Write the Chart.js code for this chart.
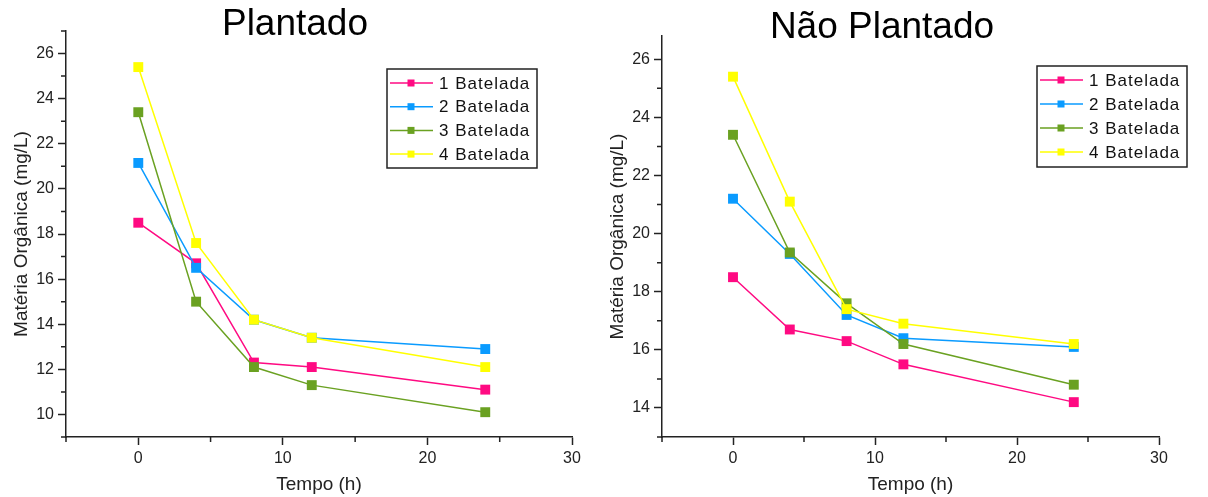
<!DOCTYPE html>
<html>
<head>
<meta charset="utf-8">
<script src="https://cdn.jsdelivr.net/npm/chart.js@4.4.1/dist/chart.umd.min.js"></script>
<style>
  body { margin: 0; background: #fff; }
  #wrap { position: relative; width: 1208px; height: 497px; overflow: hidden; font-family: "Liberation Sans", Arial, sans-serif; }
  .title { position: absolute; font-size: 37px; line-height: 37px; color: #000; transform: translateX(-50%); white-space: nowrap; }
  canvas { position: absolute; top: 0; }
</style>
</head>
<body>
<div id="wrap">
  <canvas id="plantado" width="600" height="497" style="left:0"></canvas>
  <canvas id="naoPlantado" width="608" height="497" style="left:600px"></canvas>
  <div class="title" style="left:295px;top:4px">Plantado</div>
  <div class="title" style="left:882px;top:7px">Não Plantado</div>
</div>
<script>
// tempo (h) e séries
const tempo = [0, 4, 8, 12, 24];
const seriesNames = ['1 Batelada', '2 Batelada', '3 Batelada', '4 Batelada'];
const seriesColors = ['#FF0A82', '#0A9BFF', '#6AA121', '#FFFF00'];

const plantado1 = [18.5, 16.7, 12.3, 12.1, 11.1];
const plantado2 = [21.15, 16.5, 14.2, 13.4, 12.9];
const plantado3 = [23.4, 15.0, 12.1, 11.3, 10.1];
const plantado4 = [25.4, 17.6, 14.2, 13.4, 12.1];

const naoPlantado1 = [18.5, 16.7, 16.3, 15.5, 14.2];
const naoPlantado2 = [21.2, 19.3, 17.2, 16.4, 16.1];
const naoPlantado3 = [23.4, 19.35, 17.6, 16.2, 14.8];
const naoPlantado4 = [25.4, 21.1, 17.4, 16.9, 16.2];

const xTicks = [0, 10, 20, 30];
const yTicksPlantado = [10, 12, 14, 16, 18, 20, 22, 24, 26];
const yTicksNaoPlantado = [14, 16, 18, 20, 22, 24, 26];

const FONT = '"Liberation Sans", Arial, sans-serif';
Chart.defaults.font.family = FONT;
Chart.defaults.color = '#222';

// small unlabeled ticks halfway between the major ones
const minorTicks = {
  id: 'minorTicks',
  afterDraw(chart) {
    const ctx = chart.ctx;
    ctx.save();
    ctx.strokeStyle = '#222';
    ctx.lineWidth = 1.5;
    Object.values(chart.scales).forEach(scale => {
      const vals = scale.ticks.map(t => t.value);
      if (vals.length < 2) return;
      const half = (vals[1] - vals[0]) / 2;
      ctx.beginPath();
      for (let v = vals[0] - half; v <= scale.max + 1e-9; v += half * 2) {
        if (v < scale.min - 1e-9) continue;
        const p = scale.getPixelForValue(v);
        if (scale.axis === 'x') { ctx.moveTo(p, scale.top); ctx.lineTo(p, scale.top + 5); }
        else { ctx.moveTo(scale.right, p); ctx.lineTo(scale.right - 5, p); }
      }
      ctx.stroke();
    });
    ctx.restore();
  }
};

// legend inside the plot, line - square - line like the original
const boxLegend = {
  id: 'boxLegend',
  afterDatasetsDraw(chart, args, opts) {
    const ctx = chart.ctx;
    ctx.save();
    ctx.lineWidth = 1.5;
    ctx.strokeStyle = '#222';
    ctx.strokeRect(opts.x, opts.y, opts.w, opts.h);
    ctx.font = '17px ' + FONT;
    ctx.letterSpacing = '1px';
    ctx.textBaseline = 'middle';
    chart.data.datasets.forEach((ds, i) => {
      const cy = opts.y + opts.first + i * opts.step;
      ctx.strokeStyle = ds.borderColor;
      ctx.beginPath();
      ctx.moveTo(opts.x + 3, cy);
      ctx.lineTo(opts.x + 46, cy);
      ctx.stroke();
      ctx.fillStyle = ds.backgroundColor;
      ctx.fillRect(opts.x + 20.5, cy - 3.5, 7, 7);
      ctx.fillStyle = '#111';
      ctx.fillText(ds.label, opts.x + 52, cy + 1);
    });
    ctx.restore();
  }
};

function makeChart(id, series, yMin, yMax, yTicks, pad, yWidth, titlePad, legend) {
  const datasets = series.map((vals, i) => ({
    label: seriesNames[i],
    data: tempo.map((t, j) => ({ x: t, y: vals[j] })),
    borderColor: seriesColors[i],
    backgroundColor: seriesColors[i],
    borderWidth: 1.5,
    pointStyle: 'rect',
    pointRadius: 7,
    pointBorderWidth: 0,
    tension: 0,
    order: series.length - i
  }));

  return new Chart(document.getElementById(id), {
    type: 'line',
    data: { datasets },
    plugins: [minorTicks, boxLegend],
    options: {
      responsive: false,
      animation: false,
      layout: { padding: pad },
      plugins: {
        legend: { display: false },
        tooltip: { enabled: false },
        boxLegend: legend
      },
      scales: {
        x: {
          type: 'linear',
          min: -5,
          max: 30,
          afterBuildTicks: s => { s.ticks = xTicks.map(v => ({ value: v })); },
          afterFit: s => { s.height = 60; },
          grid: { drawOnChartArea: false, tickLength: 8, tickWidth: 1.5, tickColor: '#222' },
          border: { color: '#222', width: 1.5 },
          ticks: { font: { size: 16 }, padding: 4, maxRotation: 0 },
          title: { display: true, text: 'Tempo (h)', font: { size: 19 }, color: '#222', padding: { top: 0, bottom: 1 } }
        },
        y: {
          type: 'linear',
          min: yMin,
          max: yMax,
          afterBuildTicks: s => { s.ticks = yTicks.map(v => ({ value: v })); },
          afterFit: s => { s.width = yWidth; },
          grid: { drawOnChartArea: false, tickLength: 8, tickWidth: 1.5, tickColor: '#222' },
          border: { color: '#222', width: 1.5 },
          ticks: { font: { size: 16 }, padding: 4 },
          title: { display: true, text: 'Matéria Orgânica (mg/L)', font: { size: 19 }, color: '#222', padding: { top: titlePad, bottom: 0 } }
        }
      }
    }
  });
}

makeChart('plantado', [plantado1, plantado2, plantado3, plantado4], 9, 27, yTicksPlantado,
  { top: 31, right: 28, left: 0, bottom: 0 }, 66, 10,
  { x: 387, y: 69, w: 150, h: 99, first: 14, step: 23.7 });

makeChart('naoPlantado', [naoPlantado1, naoPlantado2, naoPlantado3, naoPlantado4], 13, 26.8, yTicksNaoPlantado,
  { top: 36, right: 49, left: 0, bottom: 0 }, 62, 6,
  { x: 437, y: 66, w: 150, h: 101, first: 14, step: 24 });
</script>
</body>
</html>
